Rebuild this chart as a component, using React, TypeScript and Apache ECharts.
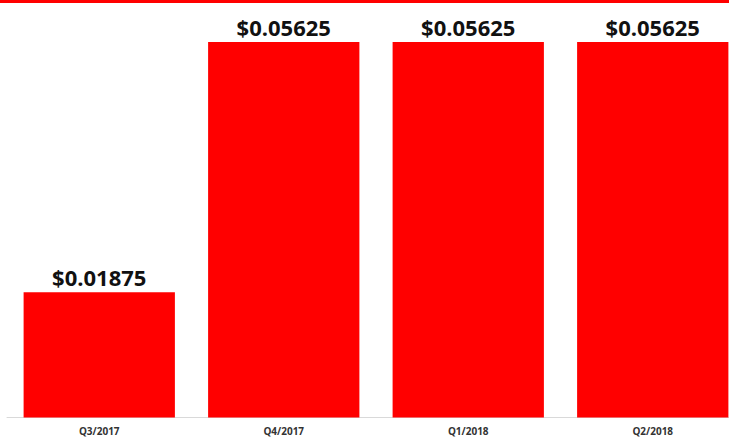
import React, { useEffect, useRef } from "react";
import * as echarts from "echarts";

const categories = ["Q3/2017", "Q4/2017", "Q1/2018", "Q2/2018"];
const dividends = [0.01875, 0.05625, 0.05625, 0.05625];

export default function App() {
  const ref = useRef<HTMLDivElement>(null);
  useEffect(() => {
    if (!ref.current) return;
    const chart = echarts.init(ref.current, null, { renderer: "svg" });
    chart.setOption({
      animation: false,
      backgroundColor: "#ffffff",
      graphic: [
        {
          type: "rect",
          left: 0,
          top: 0,
          shape: { width: 746, height: 3 },
          style: { fill: "#ff0000" },
        },
      ],
      grid: { left: 7, right: 0, top: 42, bottom: 19.5 },
      xAxis: {
        type: "category",
        data: categories,
        axisLine: { show: true, lineStyle: { color: "#d9d9d9", width: 1 } },
        axisTick: { show: false },
        axisLabel: {
          color: "#333333",
          fontFamily: "Open Sans",
          fontWeight: "bold",
          fontSize: 10,
          margin: 8,
        },
      },
      yAxis: {
        type: "value",
        min: 0,
        max: 0.05625,
        show: false,
        splitLine: { show: false },
      },
      series: [
        {
          type: "bar",
          data: dividends,
          barCategoryGap: "18%",
          itemStyle: { color: "#ff0000" },
          label: {
            show: true,
            position: "top",
            distance: 4,
            color: "#111111",
            fontFamily: "Open Sans",
            fontWeight: "bold",
            fontSize: 22,
            formatter: (p: any) => "$" + dividends[p.dataIndex].toFixed(5),
          },
        },
      ],
    });
    return () => chart.dispose();
  }, []);
  return (
    <div
      style={{
        position: "fixed",
        left: 0,
        top: 0,
        width: 729,
        height: 437,
        overflow: "hidden",
      }}
    >
      <div ref={ref} style={{ width: 745, height: 437 }} />
    </div>
  );
}
